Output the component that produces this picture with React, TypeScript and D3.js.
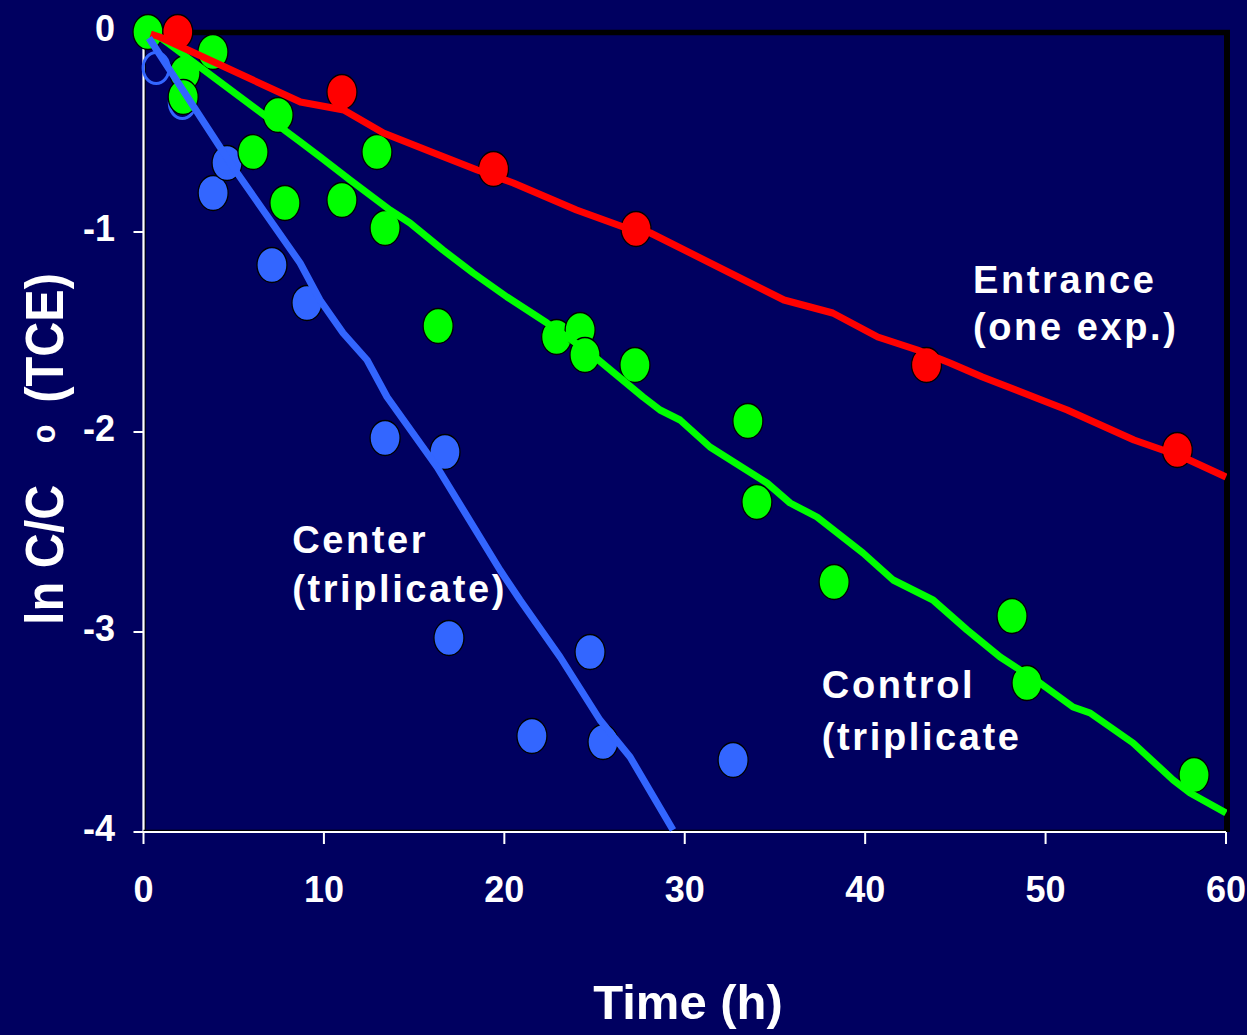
import React from "react";
import * as d3 from "d3";

// ---- data ----
const xTicks = [0, 10, 20, 30, 40, 50, 60];
const yTicks = [0, -1, -2, -3, -4];

// Entrance (one exp.) — red
const entranceX = [1.9, 11.0, 19.4, 27.3, 43.4, 57.3];
const entranceY = [0.0, -0.3, -0.685, -0.985, -1.665, -2.09];
const entranceFitX = [0.4, 0.9, 8.7, 11.1, 13.3, 16.1, 18.5, 20.5, 24.0, 26.6, 28.1, 35.5, 38.2, 40.7, 42.9, 44.7, 46.5, 50.2, 51.2, 54.9, 57.6, 60];
const entranceFitY = [-0.01, -0.025, -0.35, -0.39, -0.505, -0.605, -0.69, -0.755, -0.89, -0.975, -1.005, -1.34, -1.405, -1.525, -1.59, -1.655, -1.725, -1.855, -1.89, -2.04, -2.125, -2.225];

// Control (triplicate) — green
const controlX = [0.25, 3.85, 2.3, 2.2, 6.07, 7.46, 7.84, 11.0, 12.94, 13.39, 16.33, 22.9, 24.2, 24.47, 27.24, 33.5, 34.0, 38.28, 48.14, 48.97, 58.23];
const controlY = [0.0, -0.1, -0.205, -0.325, -0.6, -0.415, -0.855, -0.84, -0.6, -0.98, -1.47, -1.525, -1.49, -1.615, -1.665, -1.945, -2.35, -2.75, -2.92, -3.255, -3.715];
const controlFitX = [0.25, 0.9, 8.7, 9.8, 11.45, 13.66, 14.77, 16.6, 18.27, 20.15, 22.37, 24.75, 27.69, 28.63, 29.74, 31.4, 34.56, 35.84, 37.33, 39.88, 41.55, 43.76, 45.65, 47.48, 49.69, 51.52, 52.47, 54.85, 57.07, 58.01, 60];
const controlFitY = [-0.015, -0.025, -0.55, -0.625, -0.74, -0.89, -0.955, -1.09, -1.205, -1.325, -1.455, -1.605, -1.825, -1.89, -1.94, -2.075, -2.255, -2.355, -2.425, -2.605, -2.74, -2.84, -2.99, -3.125, -3.255, -3.375, -3.405, -3.555, -3.74, -3.805, -3.905];

// Center (triplicate) — blue
const centerOpenX = [0.7, 2.15];
const centerOpenY = [-0.18, -0.355];
const centerX = [3.86, 4.63, 7.12, 9.06, 13.39, 16.71, 16.93, 21.53, 24.75, 25.47, 32.68];
const centerY = [-0.805, -0.655, -1.165, -1.355, -2.03, -2.1, -3.03, -3.52, -3.1, -3.55, -3.64];
const centerFitX = [0.3, 4.96, 8.68, 9.78, 11.06, 12.39, 13.5, 16.27, 19.76, 20.87, 23.09, 25.3, 26.97, 29.35];
const centerFitY = [-0.03, -0.675, -1.155, -1.34, -1.505, -1.64, -1.825, -2.175, -2.69, -2.84, -3.125, -3.44, -3.625, -3.99];

// annotations: [x, y(baseline), text]
const annoText = ["Entrance", "(one exp.)", "Center", "(triplicate)", "Control", "(triplicate"];
const annoX = [45.98, 45.98, 8.24, 8.24, 37.6, 37.6];
const annoY = [-1.305, -1.54, -2.605, -2.85, -3.33, -3.59];

const W = 1247;
const H = 1035;
const BG = "#000060";
const RED = "#ff0000";
const GREEN = "#00ff00";
const BLUE = "#3366ff";
const FONT = "Arial, 'Liberation Sans', Helvetica, sans-serif";

export default function App() {
  const x = d3.scaleLinear().domain([0, 60]).range([143.5, 1226]);
  const y = d3.scaleLinear().domain([-4, 0]).range([832, 32]);

  const line = d3
    .line<[number, number]>()
    .x((d) => x(d[0]))
    .y((d) => y(d[1]))
    .curve(d3.curveLinear);

  const zip = (a: number[], b: number[]) => a.map((v, i) => [v, b[i]] as [number, number]);

  const rx = 15;
  const ry = 17.5;

  const markers = (xs: number[], ys: number[], fill: string) =>
    xs.map((v, i) => (
      <ellipse key={i} cx={x(v)} cy={y(ys[i])} rx={rx} ry={ry} fill={fill} stroke="#000" strokeWidth={1.3} />
    ));

  return (
    <svg
      width={W}
      height={H}
      style={{ position: "absolute", left: 0, top: 0, display: "block" }}
      fontFamily={FONT}
    >
      <rect x={0} y={0} width={W} height={H} fill={BG} />
      <defs>
        <clipPath id="plotclip">
          <rect x={0} y={0} width={1227} height={834} />
        </clipPath>
      </defs>

      {/* top and right frame (black) */}
      <line x1={143} x2={1230} y1={32.5} y2={32.5} stroke="#000" strokeWidth={5.5} />
      <line x1={1227} x2={1227} y1={30} y2={832} stroke="#000" strokeWidth={6} />

      {/* axes: white with dark shadow */}
      <line x1={x(0) + 1.5} x2={x(0) + 1.5} y1={y(0)} y2={y(-4)} stroke="#000" strokeWidth={1.5} />
      <line x1={x(0)} x2={x(0)} y1={y(0)} y2={y(-4) + 1} stroke="#fff" strokeWidth={2.2} />
      <line x1={x(0)} x2={x(60)} y1={y(-4) - 1.5} y2={y(-4) - 1.5} stroke="#000" strokeWidth={1.5} />
      <line x1={x(0) - 1} x2={x(60)} y1={y(-4)} y2={y(-4)} stroke="#fff" strokeWidth={2.2} />

      {yTicks.map((t) => (
        <g key={"yt" + t}>
          <line x1={x(0) - 10} x2={x(0)} y1={y(t)} y2={y(t)} stroke="#fff" strokeWidth={2} />
          <text x={115} y={y(t) + 9} fill="#fff" fontSize={36} fontWeight="bold" textAnchor="end">
            {t === 0 ? "0" : "-" + Math.abs(t)}
          </text>
        </g>
      ))}
      {xTicks.map((t) => (
        <g key={"xt" + t}>
          <line x1={x(t)} x2={x(t)} y1={y(-4)} y2={y(-4) + 12} stroke="#fff" strokeWidth={2} />
          <text x={x(t)} y={902} fill="#fff" fontSize={36} fontWeight="bold" textAnchor="middle">
            {t}
          </text>
        </g>
      ))}

      {/* axis titles */}
      <text x={688} y={1019} fill="#fff" fontSize={49} fontWeight="bold" textAnchor="middle">
        Time (h)
      </text>
      <g transform="translate(63,625) rotate(-90) scale(0.9,1)" fill="#fff" fontWeight="bold">
        <text x={0} y={0} fontSize={54}>ln C/C</text>
        <text x={202} y={-8} fontSize={34}>o</text>
        <text x={247} y={0} fontSize={54}>(TCE)</text>
      </g>

      {/* markers */}
      <g>
        {centerOpenX.map((v, i) => (
          <ellipse key={"o" + i} cx={x(v)} cy={y(centerOpenY[i])} rx={rx - 2} ry={ry - 2} fill="none" stroke={BLUE} strokeWidth={3} />
        ))}
        {markers(centerX, centerY, BLUE)}
        {markers(controlX, controlY, GREEN)}
        {markers(entranceX, entranceY, RED)}
      </g>

      {/* fitted lines */}
      <g clipPath="url(#plotclip)" fill="none" strokeWidth={7} strokeLinejoin="round">
        <path d={line(zip(controlFitX, controlFitY)) || ""} stroke={GREEN} />
        <path d={line(zip(entranceFitX, entranceFitY)) || ""} stroke={RED} />
        <path d={line(zip(centerFitX, centerFitY)) || ""} stroke={BLUE} />
      </g>

      {/* annotations */}
      {annoText.map((s, i) => (
        <text
          key={"a" + i}
          x={x(annoX[i])}
          y={y(annoY[i])}
          fill="#fff"
          fontSize={38}
          fontWeight="bold"
          style={{ letterSpacing: "2.6px" }}
        >
          {s}
        </text>
      ))}
    </svg>
  );
}
